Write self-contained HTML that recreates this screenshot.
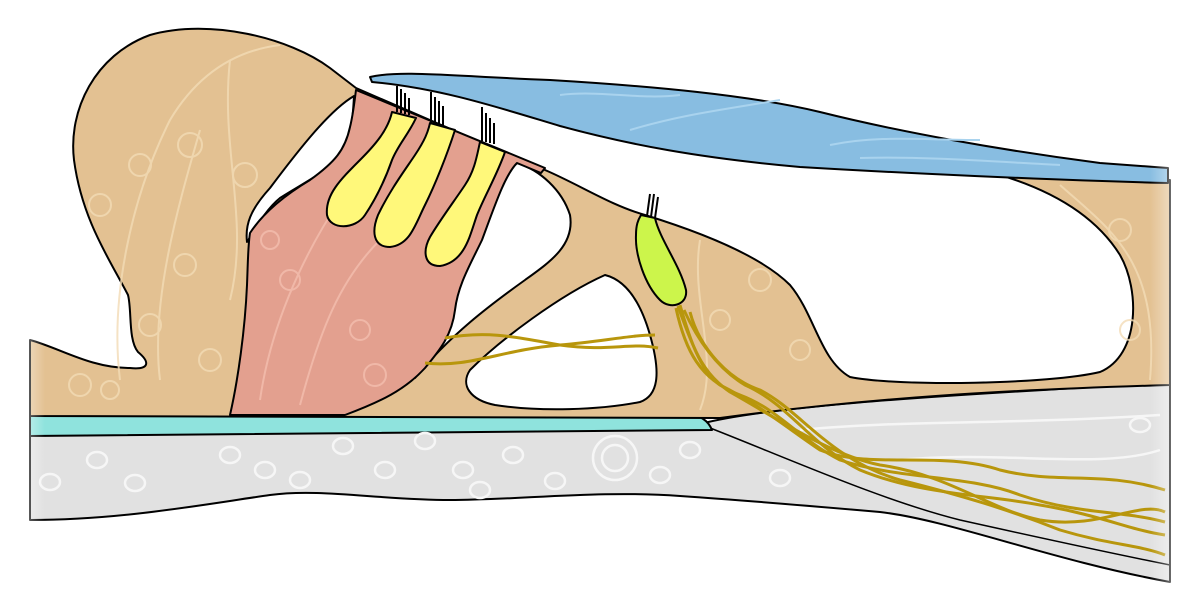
<!DOCTYPE html>
<html><head><meta charset="utf-8"><style>html,body{margin:0;padding:0;background:#fff}svg{display:block}</style></head><body>
<svg width="1200" height="605" viewBox="0 0 1200 605" xmlns="http://www.w3.org/2000/svg">
<defs>
<linearGradient id="fl" x1="0" x2="1"><stop offset="0" stop-color="#fff" stop-opacity="1"/><stop offset="1" stop-color="#fff" stop-opacity="0"/></linearGradient>
<linearGradient id="fr" x1="1" x2="0"><stop offset="0" stop-color="#fff" stop-opacity="1"/><stop offset="1" stop-color="#fff" stop-opacity="0"/></linearGradient>
</defs>
<g stroke="#000" stroke-width="2" stroke-linejoin="round">
<path d="M30,428 L700,424 C760,408 900,397 1170,383 L1170,582 C1050,560 950,520 880,512 C800,505 740,500 680,496 C600,490 520,500 450,500 C380,500 320,488 270,495 C200,505 120,520 30,520 Z" fill="#e1e1e1"/>
<path d="M705,426 C780,455 880,500 960,520 C1050,540 1120,555 1170,565" fill="none" stroke-width="1.5"/>
<path d="M30,414 L690,414 C700,416 708,420 712,430 L30,436 Z" fill="#8fe3dd"/>
<!-- tan -->
<path d="M30,340 C60,348 90,368 130,368 C150,370 150,362 138,352 C128,340 132,310 128,295 C110,260 82,220 74,160 C68,110 95,55 150,35 C210,18 290,38 330,68 L356,88 L545,170 C580,185 610,205 645,215 C700,232 760,255 790,285 C815,315 820,360 850,377 C900,387 1050,384 1100,372 C1140,355 1140,290 1120,255 C1095,215 1050,190 1000,175 L1170,180 L1170,385 C1000,390 870,398 720,418 L30,416 Z" fill="#e3c192"/>
<!-- hole near bulb -->
<path d="M354,96 C330,110 300,148 270,188 C250,210 245,225 247,242 C255,230 265,210 280,198 C300,185 330,170 342,155 C352,135 353,115 354,96 Z" fill="#fff"/>
<!-- tunnel of Corti -->
<path d="M517,163 C540,170 562,190 570,215 C575,245 550,262 525,280 C490,305 450,335 415,378 C440,350 452,335 455,305 C458,280 470,250 485,215 C497,190 505,172 517,163 Z" fill="#fff"/>
<!-- triangle hole -->
<path d="M605,275 C625,280 640,300 650,335 C660,370 660,395 640,402 C600,410 540,412 495,405 C470,400 460,385 470,370 C500,340 560,295 605,275 Z" fill="#fff"/>
<!-- pink -->
<path d="M356,90 L545,168 L541,173 L517,163 C505,175 495,205 482,240 C470,265 458,285 455,310 C452,335 440,350 425,368 C405,390 380,402 345,415 L230,415 C238,380 245,330 247,285 C248,260 248,245 250,233 C265,210 290,192 310,180 C335,162 345,150 350,127 C353,115 354,105 356,90 Z" fill="#e3a08f"/>
</g>
<!-- texture -->
<g fill="none" stroke="#f3dcb6" stroke-width="2" opacity="0.8">
<path d="M120,380 C110,300 130,200 170,120 C200,70 240,50 280,45"/>
<path d="M160,380 C150,300 180,200 200,130"/>
<path d="M230,60 C220,150 250,220 230,300"/>
<circle cx="190" cy="145" r="12"/><circle cx="245" cy="175" r="12"/><circle cx="140" cy="165" r="11"/><circle cx="100" cy="205" r="11"/><circle cx="185" cy="265" r="11"/><circle cx="150" cy="325" r="11"/><circle cx="210" cy="360" r="11"/><circle cx="80" cy="385" r="11"/><circle cx="110" cy="390" r="9"/><circle cx="720" cy="320" r="10"/><circle cx="760" cy="280" r="11"/><circle cx="800" cy="350" r="10"/><circle cx="1120" cy="230" r="11"/><circle cx="1130" cy="330" r="10"/>
<path d="M700,240 C690,300 720,360 700,410"/><path d="M1060,185 C1110,230 1160,260 1150,380"/>
</g>
<g fill="none" stroke="#f0b8a8" stroke-width="2"><path d="M260,400 C270,330 300,260 340,200"/><path d="M300,405 C320,330 340,280 380,240"/><circle cx="290" cy="280" r="10"/><circle cx="360" cy="330" r="10"/><circle cx="270" cy="240" r="9"/><circle cx="375" cy="375" r="11"/></g>
<g fill="none" stroke="#f6f6f6" stroke-width="2.5">
<ellipse cx="97" cy="460" rx="10" ry="8"/><ellipse cx="230" cy="455" rx="10" ry="8"/><ellipse cx="343" cy="446" rx="10" ry="8"/><ellipse cx="425" cy="441" rx="10" ry="8"/><ellipse cx="513" cy="455" rx="10" ry="8"/><ellipse cx="555" cy="481" rx="10" ry="8"/><ellipse cx="690" cy="450" rx="10" ry="8"/><ellipse cx="660" cy="475" rx="10" ry="8"/><ellipse cx="463" cy="470" rx="10" ry="8"/><ellipse cx="265" cy="470" rx="10" ry="8"/><ellipse cx="135" cy="483" rx="10" ry="8"/><ellipse cx="385" cy="470" rx="10" ry="8"/><ellipse cx="480" cy="490" rx="10" ry="8"/><ellipse cx="300" cy="480" rx="10" ry="8"/><ellipse cx="50" cy="482" rx="10" ry="8"/><ellipse cx="780" cy="478" rx="10" ry="8"/>
<circle cx="615" cy="458" r="22"/><circle cx="615" cy="458" r="13"/>
<path d="M800,430 C900,420 1000,425 1160,415"/><path d="M900,460 C1000,450 1100,470 1160,450"/><ellipse cx="1140" cy="425" rx="10" ry="7"/>
</g>
<!-- hair cells -->
<g stroke="#000" stroke-width="2" fill="#fff87a" stroke-linejoin="round">
<path d="M392,112 L416,118 C408,135 398,145 392,160 C385,180 375,200 365,215 C355,230 330,230 327,215 C325,195 340,180 360,160 C375,145 388,130 392,112 Z"/>
<path d="M430,123 L455,130 C447,155 435,185 425,205 C415,225 410,245 390,247 C372,247 372,230 378,215 C390,190 405,170 415,155 C425,140 428,132 430,123 Z"/>
<path d="M480,142 L505,152 C497,175 485,195 477,215 C470,235 465,262 440,266 C423,266 423,250 430,237 C440,220 455,200 465,185 C475,170 477,155 480,142 Z"/>
<path d="M641,215 L655,218 C660,240 680,265 686,290 C688,305 670,310 660,300 C645,285 635,255 636,235 C636,225 638,220 641,215 Z" fill="#ccf54b"/>
</g>
<g stroke="#000" stroke-width="2">
<path d="M397,112 L397,86 M401,113 L401,89 M405,114 L405,93 M409,115 L409,98"/>
<path d="M431,123 L431,92 M435,124 L435,97 M439,125 L439,101 M443,126 L443,106"/>
<path d="M482,141 L482,107 M486,142 L486,113 M490,143 L490,118 M494,144 L494,123"/>
<path d="M647,216 L650,194 M651,217 L654,194 M655,218 L658,197"/>
</g>
<!-- nerves -->
<g fill="none" stroke="#b8960c" stroke-width="3">
<path d="M445,338 C490,330 520,338 560,345 C610,352 630,342 658,348"/>
<path d="M425,363 C470,368 500,350 560,345 C600,342 630,335 655,335"/>
<path d="M680,305 C690,340 700,370 720,385 C760,405 790,430 820,450 C870,470 940,450 1000,470 C1060,485 1100,470 1165,490"/>
<path d="M676,308 C685,350 700,380 740,395 C780,410 800,440 840,460 C900,480 970,475 1020,495 C1080,515 1120,510 1165,522"/>
<path d="M684,310 C700,345 720,370 745,385 C790,405 810,445 860,470 C920,495 990,495 1040,505 C1100,515 1130,530 1165,535"/>
<path d="M690,312 C700,350 730,380 760,390 C800,410 830,460 900,480 C960,495 1010,510 1060,530 C1110,545 1140,545 1165,555"/>
<path d="M678,306 C695,355 705,375 730,392 C780,420 830,455 880,465 C950,475 990,510 1040,520 C1100,530 1140,500 1165,512"/>
</g>
<!-- blue tectorial -->
<path d="M370,77 C400,70 450,76 550,80 C650,86 750,95 820,112 C900,132 1000,150 1100,163 L1168,168 L1168,183 C1050,180 900,173 800,167 C700,158 630,145 560,126 C500,108 440,88 372,82 Z" fill="#88bde1" stroke="#000" stroke-width="2" stroke-linejoin="round"/>
<g fill="none" stroke="#a9d3ee" stroke-width="2"><path d="M560,95 C600,90 640,100 680,95"/><path d="M630,130 C680,115 720,110 780,100"/><path d="M830,145 C880,135 920,140 980,140"/><path d="M860,158 C920,156 1000,162 1060,165"/></g>
<rect x="0" y="0" width="45" height="605" fill="url(#fl)"/>
<rect x="1150" y="0" width="50" height="605" fill="url(#fr)"/>
</svg>
</body></html>
